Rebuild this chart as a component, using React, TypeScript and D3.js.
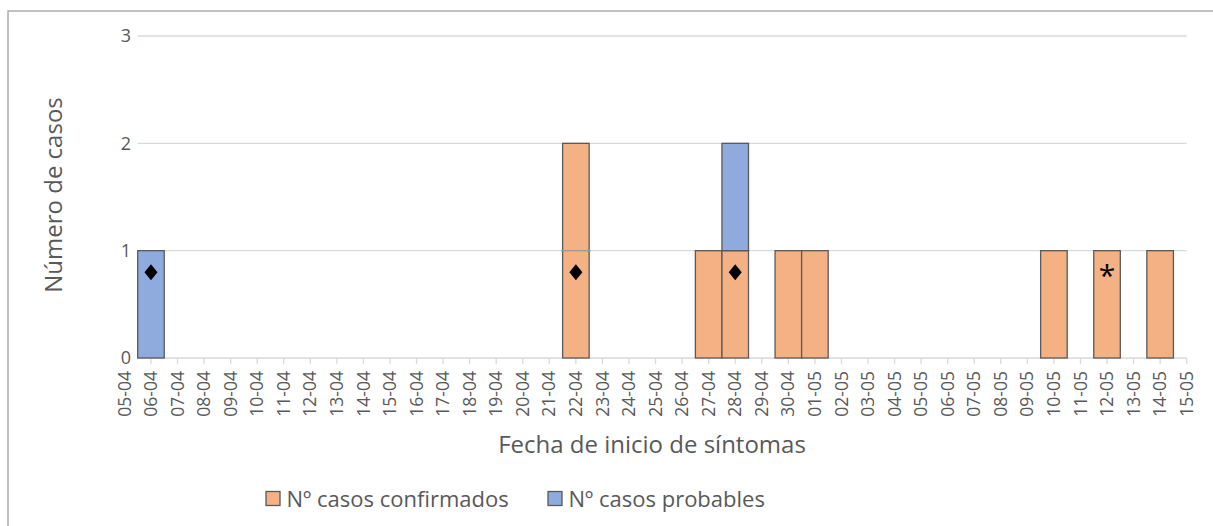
import React from "react";
import * as d3 from "d3";

// Categories: every day from 05-04 to 15-05
const dayLabels: string[] = d3
  .timeDay.range(new Date(2020, 3, 5), new Date(2020, 4, 16))
  .map((d) => d3.timeFormat("%d-%m")(d));

const yTicks = [0, 1, 2, 3];

const confirmedDates = ["22-04", "27-04", "28-04", "30-04", "01-05", "10-05", "12-05", "14-05"];
const confirmedCounts = [2, 1, 1, 1, 1, 1, 1, 1];

const probableDates = ["06-04", "28-04"];
const probableCounts = [1, 1];

const diamondDates = ["06-04", "22-04", "28-04"];
const asteriskDates = ["12-05"];
const markerLevel = 0.8;

const legendItems = ["Nº casos confirmados", "Nº casos probables"];

const W = 1213;
const H = 526;
const FONT = "'Open Sans', 'Noto Sans', sans-serif";
const TXT = "#595959";
const C_CONF = "#F4B183";
const C_PROB = "#8FAADC";
const BORDER = "#5a5a5a";

export default function App() {
  const x = d3.scaleLinear().domain([0, dayLabels.length - 1]).range([124.4, 1186.7]);
  const y = d3.scaleLinear().domain([0, 3]).range([358, 36]);
  const bw = x(1) - x(0);
  const idx = (d: string) => dayLabels.indexOf(d);
  const plotL = x(0.5);
  const plotR = x(dayLabels.length - 1);

  const confMap = new Map<string, number>();
  confirmedDates.forEach((d, i) => confMap.set(d, confirmedCounts[i]));

  return (
    <svg
      width={W}
      height={H}
      style={{ position: "absolute", left: 0, top: 0, background: "#fff" }}
      fontFamily={FONT}
    >
      {/* outer frame */}
      <rect x={8} y={11} width={W + 20} height={H + 20} fill="none" stroke="#b0acac" strokeWidth={1.5} />

      {/* gridlines */}
      {yTicks.map((t) => (
        <line key={"g" + t} x1={plotL} x2={plotR} y1={y(t)} y2={y(t)} stroke="#d9d9d9" strokeWidth={1.3} />
      ))}
      {yTicks.map((t) => (
        <text key={"yl" + t} x={131} y={y(t)} dy="0.35em" textAnchor="end" fontSize={18} fill={TXT}>
          {t}
        </text>
      ))}

      {/* x ticks */}
      {dayLabels.map((d, i) =>
        i === 0 ? null : (
          <line key={"t" + d} x1={x(i)} x2={x(i)} y1={y(0)} y2={y(0) + 6} stroke="#d9d9d9" strokeWidth={1.3} />
        )
      )}
      {dayLabels.map((d, i) => (
        <text
          key={"xl" + d}
          transform={`translate(${x(i)},${371}) rotate(-90)`}
          textAnchor="end"
          dy="0.35em"
          fontSize={17.5}
          fill={TXT}
        >
          {d}
        </text>
      ))}

      {/* confirmed bars (one cell per case) */}
      {confirmedDates.map((d, i) => {
        const n = confirmedCounts[i];
        const cx = x(idx(d));
        return (
          <g key={"c" + d}>
            <rect x={cx - bw / 2} y={y(n)} width={bw} height={y(0) - y(n)} fill={C_CONF} stroke={BORDER} strokeWidth={1.3} />
            {d3.range(1, n).map((k) => (
              <line key={k} x1={cx - bw / 2 - 1.5} x2={cx + bw / 2 + 1.5} y1={y(k)} y2={y(k)} stroke="#9a9a9a" strokeWidth={1.3} />
            ))}
          </g>
        );
      })}

      {/* probable bars stacked on confirmed */}
      {probableDates.map((d, i) => {
        const base = confMap.get(d) || 0;
        const top = base + probableCounts[i];
        const cx = x(idx(d));
        return (
          <rect
            key={"p" + d}
            x={cx - bw / 2}
            y={y(top)}
            width={bw}
            height={y(base) - y(top)}
            fill={C_PROB}
            stroke={BORDER}
            strokeWidth={1.3}
          />
        );
      })}

      {/* markers */}
      {diamondDates.map((d) => {
        const cx = x(idx(d));
        const cy = y(markerLevel);
        return <path key={"dm" + d} d={`M${cx},${cy - 8}L${cx + 6.5},${cy}L${cx},${cy + 8}L${cx - 6.5},${cy}Z`} fill="#000" />;
      })}
      {asteriskDates.map((d) => (
        <text key={"as" + d} x={x(idx(d))} y={y(markerLevel) + 14} textAnchor="middle" fontSize={30} fill="#000">
          *
        </text>
      ))}

      {/* axis titles */}
      <text transform={`translate(${62},${195}) rotate(-90)`} textAnchor="middle" fontSize={24} fill={TXT}>
        Número de casos
      </text>
      <text x={652} y={453} textAnchor="middle" fontSize={24} fill={TXT}>
        Fecha de inicio de síntomas
      </text>

      {/* legend */}
      {legendItems.map((lbl, i) => {
        const lx = i === 0 ? 266 : 548;
        return (
          <g key={lbl}>
            <rect x={lx} y={491.5} width={14} height={14} fill={i === 0 ? C_CONF : C_PROB} stroke={BORDER} strokeWidth={1.3} />
            <text x={lx + 20.5} y={506.5} fontSize={22} fill={TXT}>
              {lbl}
            </text>
          </g>
        );
      })}
    </svg>
  );
}
